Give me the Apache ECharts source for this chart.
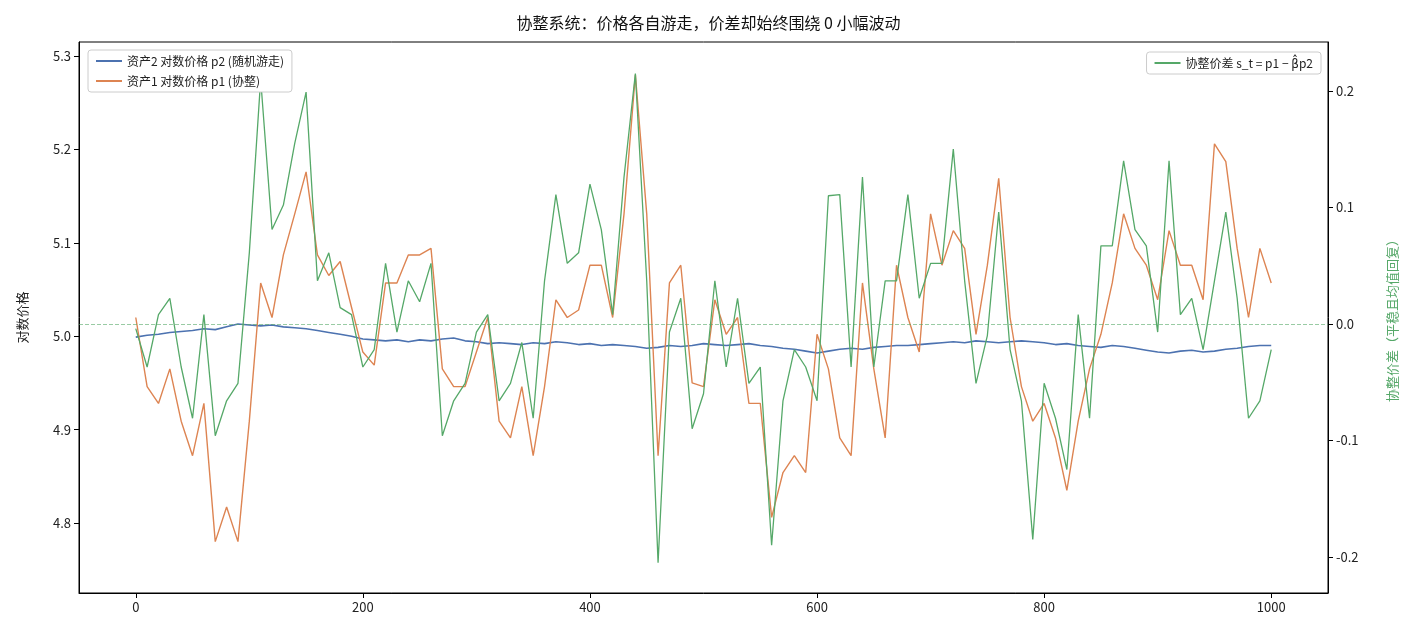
<!DOCTYPE html>
<html><head><meta charset="utf-8">
<script src="https://cdn.jsdelivr.net/npm/echarts@6/dist/echarts.min.js"></script>
<style>html,body{margin:0;padding:0;background:#fff}#c{width:1417px;height:637px}</style>
</head><body><div id="c"></div>
<script>
const steps = [];
for (let t = 0; t <= 1000; t += 10) steps.push(t);
const p2 = [4.999,5.001,5.002,5.004,5.005,5.006,5.008,5.007,5.010,5.013,
5.012,5.011,5.012,5.010,5.009,5.008,5.006,5.004,5.002,5.000,
4.997,4.996,4.995,4.996,4.994,4.996,4.995,4.997,4.998,4.995,
4.994,4.992,4.993,4.992,4.991,4.993,4.992,4.994,4.993,4.991,
4.992,4.990,4.991,4.990,4.989,4.987,4.988,4.990,4.989,4.990,
4.992,4.991,4.990,4.991,4.992,4.990,4.989,4.987,4.986,4.984,
4.982,4.984,4.986,4.987,4.986,4.988,4.989,4.990,4.990,4.991,
4.992,4.993,4.994,4.993,4.995,4.994,4.993,4.994,4.995,4.994,
4.993,4.991,4.992,4.990,4.989,4.988,4.990,4.989,4.987,4.985,
4.983,4.982,4.984,4.985,4.983,4.984,4.986,4.987,4.989,4.990,4.990];
const p1 = [5.020,4.946,4.928,4.965,4.909,4.872,4.928,4.780,4.817,4.780,
4.909,5.057,5.020,5.087,5.131,5.176,5.087,5.065,5.080,5.031,
4.983,4.969,5.057,5.057,5.087,5.087,5.094,4.965,4.946,4.946,
4.983,5.020,4.909,4.891,4.946,4.872,4.946,5.039,5.020,5.028,
5.076,5.076,5.020,5.131,5.280,5.131,4.872,5.057,5.076,4.950,
4.946,5.039,5.002,5.020,4.928,4.928,4.806,4.854,4.872,4.854,
5.002,4.965,4.891,4.872,5.057,4.965,4.891,5.076,5.020,4.983,
5.131,5.076,5.113,5.094,5.002,5.076,5.169,5.020,4.946,4.909,
4.928,4.891,4.835,4.909,4.965,5.002,5.057,5.131,5.094,5.076,
5.039,5.113,5.076,5.076,5.039,5.206,5.187,5.094,5.020,5.094,5.057];
const spread = [-0.004,-0.037,0.008,0.022,-0.037,-0.081,0.008,-0.096,-0.066,-0.051,
0.061,0.210,0.081,0.102,0.155,0.199,0.037,0.061,0.014,0.008,
-0.037,-0.022,0.052,-0.007,0.037,0.019,0.052,-0.096,-0.066,-0.051,
-0.007,0.008,-0.066,-0.051,-0.016,-0.081,0.037,0.111,0.052,0.061,
0.120,0.081,0.008,0.126,0.215,0.037,-0.205,-0.007,0.022,-0.090,
-0.060,0.037,-0.037,0.022,-0.051,-0.037,-0.190,-0.066,-0.022,-0.037,
-0.066,0.110,0.111,-0.037,0.126,-0.037,0.037,0.037,0.111,0.022,
0.052,0.052,0.150,0.037,-0.051,-0.010,0.096,-0.022,-0.066,-0.185,
-0.051,-0.081,-0.125,0.008,-0.081,0.067,0.067,0.140,0.081,0.067,
-0.007,0.140,0.008,0.022,-0.022,0.037,0.096,0.022,-0.081,-0.066,-0.022];
const xTicks = [0,200,400,600,800,1000];
const leftTicks = [4.8,4.9,5.0,5.1,5.2,5.3];
const rightTicks = [-0.2,-0.1,0.0,0.1,0.2];

const F = '"Noto Sans CJK SC", "DejaVu Sans", sans-serif';
const zip = a => steps.map((t,i)=>[t,a[i]]);
const chart = echarts.init(document.getElementById('c'));
chart.setOption({
  animation:false,
  textStyle:{fontFamily:F},
  title:{text:'协整系统：价格各自游走，价差却始终围绕 0 小幅波动',left:'center',top:10,textStyle:{fontSize:16,fontWeight:'normal',color:'#111',fontFamily:F}},
  grid:{left:79,right:89,top:42,bottom:44,show:true,borderColor:'#000',borderWidth:1},
  legend:[
    {data:['资产2 对数价格 p2 (随机游走)','资产1 对数价格 p1 (协整)'],orient:'vertical',left:88,top:50,itemWidth:26,itemHeight:2,itemGap:8,
     icon:'rect',backgroundColor:'#fff',borderColor:'#ccc',borderWidth:1,borderRadius:3,padding:[5,8],textStyle:{fontSize:12,color:'#222'}},
    {data:['协整价差 s_t = p1 − β̂p2'],right:96,top:52,itemWidth:26,itemHeight:2,icon:'rect',
     backgroundColor:'#fff',borderColor:'#ccc',borderWidth:1,borderRadius:3,padding:[5,8],textStyle:{fontSize:12,color:'#222'}}
  ],
  xAxis:{type:'value',min:-50,max:1050,
    axisLine:{onZero:false,lineStyle:{color:'#000'}},axisTick:{customValues:xTicks,lineStyle:{color:'#000'}},
    axisLabel:{customValues:xTicks,fontSize:13,color:'#222',formatter:v=>String(v)},splitLine:{show:false}},
  yAxis:[
    {type:'value',min:4.725,max:5.315,name:'对数价格',nameLocation:'middle',nameGap:50,nameTextStyle:{fontSize:13,color:'#222'},
     axisLine:{show:true,onZero:false,lineStyle:{color:'#000'}},axisTick:{show:true,customValues:leftTicks,lineStyle:{color:'#000'}},
     axisLabel:{customValues:leftTicks,fontSize:13,color:'#222',formatter:v=>v.toFixed(1)},splitLine:{show:false}},
    {type:'value',min:-0.231,max:0.242,position:'right',name:'协整价差（平稳且均值回复）',nameLocation:'middle',nameGap:58,nameRotate:90,
     nameTextStyle:{fontSize:13,color:'#55a868'},
     axisLine:{show:true,onZero:false,lineStyle:{color:'#000'}},axisTick:{show:true,customValues:rightTicks,lineStyle:{color:'#000'}},
     axisLabel:{customValues:rightTicks,fontSize:13,color:'#222',formatter:v=>v.toFixed(1)},splitLine:{show:false}}
  ],
  series:[
    {name:'资产2 对数价格 p2 (随机游走)',type:'line',yAxisIndex:0,data:zip(p2),showSymbol:false,lineStyle:{width:1.6,color:'#4c72b0'},itemStyle:{color:'#4c72b0'}},
    {name:'资产1 对数价格 p1 (协整)',type:'line',yAxisIndex:0,data:zip(p1),showSymbol:false,lineStyle:{width:1.4,color:'#dd8452'},itemStyle:{color:'#dd8452'}},
    {name:'协整价差 s_t = p1 − β̂p2',type:'line',yAxisIndex:1,data:zip(spread),showSymbol:false,lineStyle:{width:1.3,color:'#55a868'},itemStyle:{color:'#55a868'},
     markLine:{silent:true,symbol:'none',label:{show:false},lineStyle:{type:'dashed',color:'#55a868',opacity:0.6,width:1},data:[{yAxis:0}]}}
  ]
});
</script></body></html>
